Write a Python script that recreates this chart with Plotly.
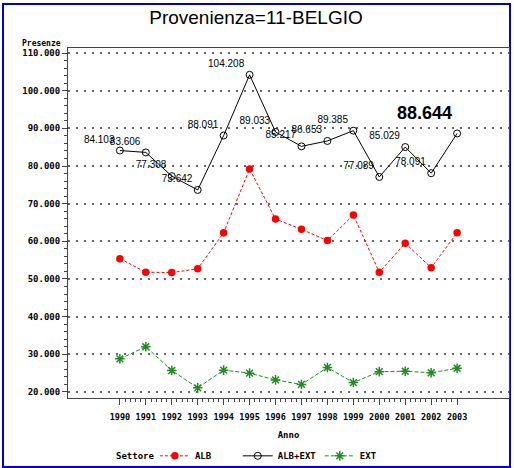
import plotly.graph_objects as go

anni = [1990, 1991, 1992, 1993, 1994, 1995, 1996, 1997, 1998, 1999, 2000, 2001, 2002, 2003]
alb = [55400, 51800, 51700, 52700, 62300, 79200, 65900, 63200, 60200, 67000, 51800, 59500, 53000, 62300]
alb_ext = [84103, 83606, 77308, 73642, 88091, 104208, 89033, 85217, 86653, 89385, 77089, 85029, 78091, 88644]
ext = [28800, 32000, 25700, 21100, 25800, 25000, 23200, 22000, 26500, 22500, 25400, 25500, 25100, 26300]

titolo = 'Provenienza=11-BELGIO'
mono = 'DejaVu Sans Mono, monospace'
sans = 'Liberation Sans, Arial, sans-serif'

fig = go.Figure()

fig.add_trace(go.Scatter(
  x=anni, y=alb, name='ALB', mode='lines+markers', legend='legend',
  line=dict(color='rgb(255,0,0)', width=1, dash='3px,2px'),
  marker=dict(symbol='circle', size=7.5, color='rgb(255,0,0)')
))

# labels on every point except the last one, which gets the big label
labels = [f'{v:,}'.replace(',', '.') for v in alb_ext]
fig.add_trace(go.Scatter(
  x=anni, y=alb_ext, name='ALB+EXT', mode='lines+markers+text', legend='legend2',
  text=labels[:-1] + [''],
  textposition='top left',
  textfont=dict(family=sans, size=10, color='black'),
  line=dict(color='black', width=1),
  marker=dict(symbol='circle-open', size=7, color='black', line=dict(width=1))
))

fig.add_trace(go.Scatter(
  x=anni, y=ext, name='EXT', mode='lines+markers', legend='legend3',
  line=dict(color='rgb(34,139,34)', width=1, dash='4px,2px'),
  marker=dict(symbol='asterisk-open', size=8, color='rgb(34,139,34)', line=dict(width=1.5, color='rgb(34,139,34)'))
))

fig.add_annotation(
  x=anni[-1], y=alb_ext[-1], text=labels[-1], showarrow=True, arrowcolor='rgba(0,0,0,0)',
  ax=-33, ay=-20, xanchor='center', yanchor='middle',
  font=dict(family=sans, size=18, color='black', weight='bold')
)

fig.add_annotation(
  xref='paper', yref='paper', x=0, y=1, xanchor='right', yanchor='bottom', xshift=-5, yshift=-2,
  text='Presenze', showarrow=False,
  font=dict(family=mono, size=8, color='black', weight='bold')
)

fig.add_annotation(
  xref='paper', yref='paper', x=0.104, y=-0.166, xanchor='left', yanchor='middle',
  text='Settore', showarrow=False,
  font=dict(family=mono, size=9, color='black', weight='bold')
)

# blue outer frame
fig.add_shape(type='rect', xref='paper', yref='paper', x0=-0.1474, x1=1.0023, y0=-0.1971, y1=1.1257,
  line=dict(color='rgb(0,0,210)', width=2), layer='below')

leg = dict(orientation='h', xanchor='left', yref='container', y=0.026, yanchor='middle',
           font=dict(family=mono, size=9, color='black', weight='bold'),
           itemwidth=30, bgcolor='rgba(0,0,0,0)')

fig.update_layout(
  width=514, height=468,
  margin=dict(l=68, r=5, t=48, b=70, pad=0, autoexpand=False),
  plot_bgcolor='white', paper_bgcolor='white',
  separators=',.',
  title=dict(text=titolo, x=0.498, xanchor='center', y=0.962, yanchor='middle',
             font=dict(family=sans, size=19, color='black')),
  showlegend=True,
  legend=dict(leg, x=0.197),
  legend2=dict(leg, x=0.385),
  legend3=dict(leg, x=0.571),
  xaxis=dict(
    range=[1988, 2005], tickmode='array', tickvals=anni, ticktext=[str(a) for a in anni], tickangle=0,
    ticks='outside', ticklen=6, tickcolor='#444', showgrid=False, zeroline=False,
    showline=True, linecolor='#444', linewidth=1, mirror=True, ticklabelstandoff=5,
    tickfont=dict(family=mono, size=8.5, color='black', weight='bold'),
    title=dict(text='Anno', standoff=10, font=dict(family=mono, size=9, color='black', weight='bold')),
    minor=dict(tickmode='array', tickvals=[a + k / 5 for a in anni[:-1] for k in range(1, 5)],
               ticks='outside', ticklen=3, tickcolor='#444'),
  ),
  yaxis=dict(
    range=[18400, 111330], tick0=20000, dtick=10000, tickformat=',.0f',
    ticks='outside', ticklen=5, tickcolor='#444',
    showgrid=True, gridcolor='#666', gridwidth=1.5, griddash='2px,6px', zeroline=False,
    showline=True, linecolor='#444', linewidth=1, mirror=True,
    tickfont=dict(family=mono, size=9, color='black', weight='bold'),
    minor=dict(dtick=2000, tick0=20000, ticks='outside', ticklen=3, tickcolor='#444'),
  ),
)

fig.write_html('out.html', config={'displayModeBar': False},
               post_script="document.body.style.margin='0';")
